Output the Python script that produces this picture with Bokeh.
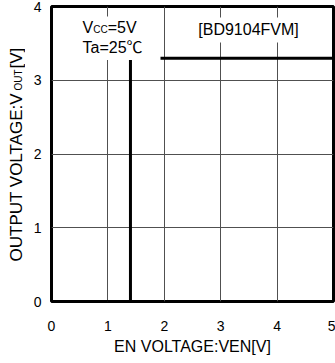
import math
from bokeh.plotting import figure
from bokeh.layouts import row
from bokeh.models import Label, BoxAnnotation, FixedTicker
from bokeh.embed import file_html
from bokeh.resources import INLINE

# ---- data ----
en_voltage = [0.0, 1.4, 1.4, 5.0]
out_voltage = [0.0, 0.0, 3.3, 3.3]
x_ticks = [0, 1, 2, 3, 4, 5]
y_ticks = [0, 1, 2, 3, 4]
x_title = "EN VOLTAGE:VEN[V]"
y_title_parts = ["OUTPUT VOLTAGE:V", "OUT", "[V]"]
cond_parts = ["V", "CC", "=5V"]
cond_line2 = "Ta=25℃"
device = "[BD9104FVM]"

FONT = "Liberation Sans"
FONT_DEG = "Liberation Sans, Noto Sans CJK JP"

W, H = 335, 363
TW = 25                      # width of the strip that carries the y title
FL, FR, FT, FB = 51, 333, 6, 301   # frame edges in page pixels


def dx(px):
    return (px - FL) / (FR - FL) * 5.0


def dy(py):
    return (FB - py) / (FB - FT) * 4.0


# ---------------- main chart ----------------
p = figure(width=W - TW, height=H, x_range=(0, 5), y_range=(0, 4),
           output_backend="svg", toolbar_location=None,
           min_border_left=FL - TW, min_border_right=W - FR,
           min_border_top=FT, min_border_bottom=H - FB)
p.background_fill_color = "white"
p.border_fill_color = "white"
p.outline_line_color = "black"
p.outline_line_width = 3

for ax in (p.xaxis, p.yaxis):
    ax.axis_line_color = None
    ax.major_tick_line_color = None
    ax.minor_tick_line_color = None
    ax.major_tick_out = 0
    ax.major_tick_in = 0
    ax.major_label_text_font = FONT
    ax.major_label_text_font_size = "14px"
    ax.major_label_text_color = "black"
p.xaxis.ticker = FixedTicker(ticks=x_ticks)
p.yaxis.ticker = FixedTicker(ticks=y_ticks)
p.xaxis.major_label_standoff = 19
p.yaxis.major_label_standoff = 10

p.xaxis.axis_label = x_title
p.xaxis.axis_label_text_font = FONT
p.xaxis.axis_label_text_font_size = "16px"
p.xaxis.axis_label_text_font_style = "normal"
p.xaxis.axis_label_text_color = "black"
p.xaxis.axis_label_standoff = 4

p.xgrid.ticker = FixedTicker(ticks=x_ticks)
p.ygrid.ticker = FixedTicker(ticks=y_ticks)
for g in (p.xgrid, p.ygrid):
    g.grid_line_color = "#505050"
    g.grid_line_width = 1

p.line(en_voltage, out_voltage, line_color="black", line_width=3)

# white backgrounds behind the annotation texts
p.add_layout(BoxAnnotation(left=dx(64), right=dx(160), top=dy(16), bottom=dy(59.5),
                           fill_color="white", fill_alpha=1.0, line_color=None))
p.add_layout(BoxAnnotation(left=dx(190), right=dx(306), top=dy(17), bottom=dy(42),
                           fill_color="white", fill_alpha=1.0, line_color=None))


def lab(fig, text, x, y, size, align="left", angle=0.0, units="data", font=FONT):
    fig.add_layout(Label(x=x, y=y, x_units=units, y_units=units, text=text,
                         text_font=font, text_font_size=size, text_color="black",
                         text_align=align, text_baseline="middle", angle=angle))


# condition block (cap centres)
lab(p, cond_parts[0], dx(82), dy(27.2), "16px")
lab(p, cond_parts[1], dx(92.7), dy(29.3), "10px")
lab(p, cond_parts[2], dx(107.2), dy(27.2), "16px")
lab(p, cond_line2, dx(82), dy(46.7), "16px", font=FONT_DEG)
# device name
lab(p, device, dx(248), dy(29.2), "16px", align="center")

# ---------------- strip with the rotated y title ----------------
# its frame is kept level with the main frame (same top/bottom borders)
t = figure(width=TW, height=H, x_axis_type=None, y_axis_type=None,
           output_backend="svg", toolbar_location=None,
           min_border_left=0, min_border_right=0,
           min_border_top=FT, min_border_bottom=H - FB)
t.outline_line_color = None
t.background_fill_color = "white"
t.border_fill_color = "white"
t.x_range.start, t.x_range.end = 0, 1
t.y_range.start, t.y_range.end = 0, 1
up = math.pi / 2
# screen units: x from the strip's left edge, y upwards from the frame bottom
lab(t, y_title_parts[0], 15.5, FB - 261, "17px", angle=up, units="screen")
lab(t, y_title_parts[1], 18.0, FB - 90, "10px", angle=up, units="screen")
lab(t, y_title_parts[2], 15.5, FB - 68, "17px", angle=up, units="screen")

layout = row(t, p, spacing=0)
open("out.html", "w").write(file_html(layout, INLINE))
